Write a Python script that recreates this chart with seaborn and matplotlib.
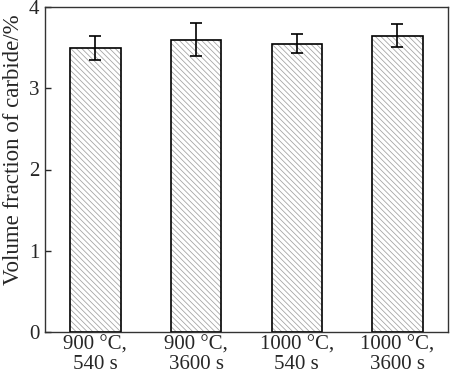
import seaborn as sns
import pandas as pd
import matplotlib.pyplot as plt

# Data
conditions = ['900 °C,\n540 s', '900 °C,\n3600 s', '1000 °C,\n540 s', '1000 °C,\n3600 s']
fraction = [3.50, 3.60, 3.55, 3.65]
error = [0.15, 0.20, 0.12, 0.14]

data = pd.DataFrame({'Condition': conditions, 'Fraction': fraction, 'Error': error})

sns.set_style('ticks')
plt.rcParams['font.family'] = ['Liberation Serif', 'DejaVu Serif']
plt.rcParams['hatch.linewidth'] = 0.55

fig, ax = plt.subplots(figsize=(4.5, 3.75), dpi=100)
fig.subplots_adjust(left=0.10, right=0.995, top=0.981, bottom=0.115)

# hatched fill layer
sns.barplot(x='Condition', y='Fraction', data=data, width=0.5, color='white',
            edgecolor='#a0a0a0', linewidth=0, errorbar=None, ax=ax)
for p in ax.patches:
    p.set_hatch('\\\\\\\\\\\\')

# black outline layer
sns.barplot(x='Condition', y='Fraction', data=data, width=0.5, fill=False,
            edgecolor='black', linewidth=1.2, errorbar=None, ax=ax)

ax.errorbar(x=range(len(conditions)), y=data['Fraction'], yerr=data['Error'],
            fmt='none', ecolor='black', elinewidth=1.2, capsize=4, capthick=1.2)

ax.set_xlim(-0.5, 3.5)
ax.set_ylim(0, 4)
ax.set_yticks([0, 1, 2, 3, 4])
ax.set_xlabel('')
ax.set_ylabel('Volume fraction of carbide/%', fontsize=16.5)
ax.yaxis.set_label_coords(-0.053, 0.56)
ax.tick_params(axis='y', direction='in', length=4, labelsize=15, width=1, pad=4)
ax.tick_params(axis='x', length=0, labelsize=15, pad=3)
for t in ax.get_xticklabels():
    t.set_linespacing(0.98)
for s in ax.spines.values():
    s.set_linewidth(1.0)
    s.set_color('#333333')

fig.savefig('out.png', dpi=100)
